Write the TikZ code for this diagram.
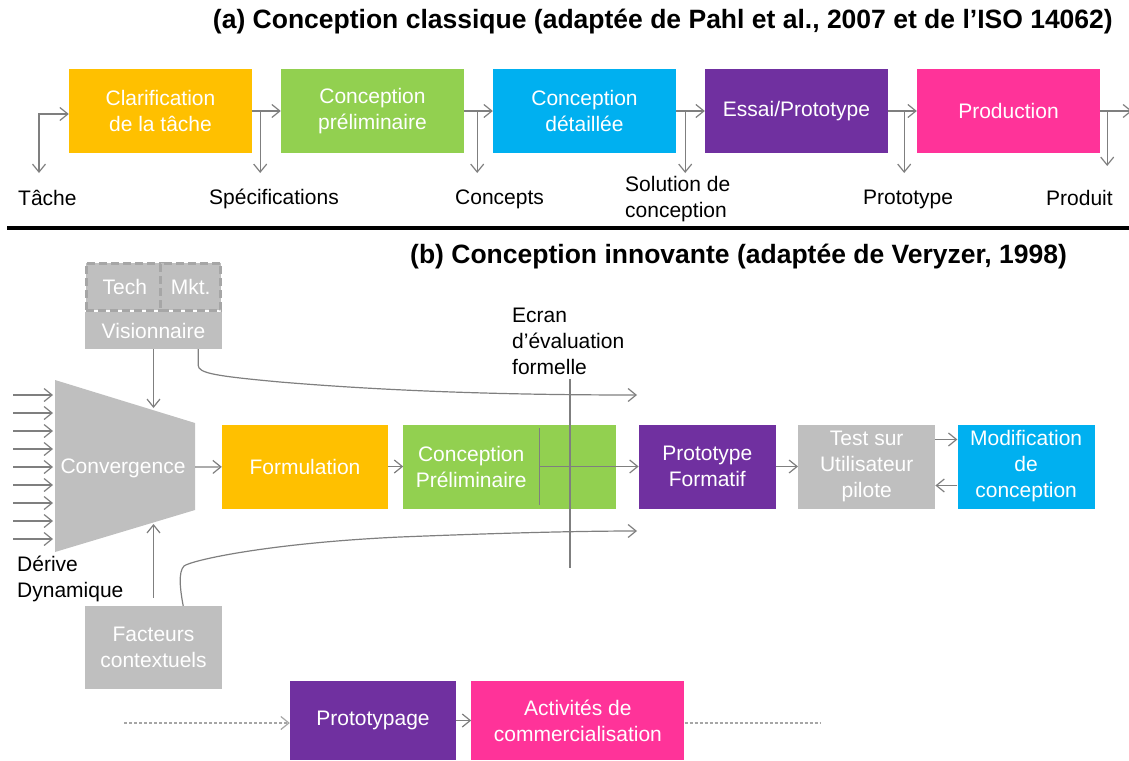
\documentclass[tikz,border=0pt]{standalone}
\usepackage{fontspec}
\setmainfont{Liberation Sans}
\usetikzlibrary{arrows.meta,positioning}

\definecolor{jaune}{HTML}{FFC000}
\definecolor{vert}{HTML}{92D050}
\definecolor{bleu}{HTML}{00B0F0}
\definecolor{violet}{HTML}{7030A0}
\definecolor{rose}{HTML}{FF3399}
\definecolor{gris}{HTML}{BFBFBF}
\definecolor{grisfonce}{HTML}{A6A6A6}
\definecolor{trait}{HTML}{7F7F7F}

\tikzset{
  boite/.style={rectangle, minimum width=183pt, minimum height=84pt, inner sep=0pt,
    text=white, align=center, font=\fontsize{21}{26}\selectfont},
  etiquette/.style={anchor=west, align=left, inner sep=0pt, font=\fontsize{21}{26}\selectfont},
  titre/.style={inner sep=0pt, font=\bfseries\fontsize{26.5}{30}\selectfont},
  pointe/.tip={Straight Barb[length=8pt,width=13pt,line width=1.2pt]},
  fleche/.style={draw=trait, line width=1.2pt, -pointe},
  bifleche/.style={draw=trait, line width=1.2pt, pointe-pointe},
  ligne/.style={draw=trait, line width=1.2pt},
  pointille/.style={draw=grisfonce, line width=1.2pt, dash pattern=on 3pt off 2pt}
}

\begin{document}
\begin{tikzpicture}[x=1pt, y=-1pt]
\useasboundingbox (0,0) rectangle (1129,760);

% (a) conception classique
\node (titreA) [titre, anchor=east] at (1113,22) {(a) Conception classique (adaptée de Pahl et al., 2007 et de l’ISO 14062)};

\node (clarif) [boite, fill=jaune] at (160.5,111) {Clarification\\de la tâche};
\node (prelimA) [boite, fill=vert, right of=clarif, node distance=212pt] {Conception\\préliminaire};
\node (detail) [boite, fill=bleu, right of=prelimA, node distance=212pt] {Conception\\détaillée};
\node (essai) [boite, fill=violet, right of=detail, node distance=212pt] {Essai/Prototype};
\node (prod) [boite, fill=rose, right of=essai, node distance=212pt] {Production};

\node (tache) [etiquette] at (18,198) {Tâche};
\node (specif) [etiquette] at (209,199) {Spécifications};
\node (concepts) [etiquette] at (455,199) {Concepts};
\node (solution) [etiquette] at (625,199) {Solution de\\conception};
\node (protoA) [etiquette] at (863,199) {Prototype};
\node (produit) [etiquette] at (1046,198) {Produit};
\coordinate (cTache) at (39,173);
\coordinate (cSortie) at (1132,111);

% Arrows
\draw[bifleche] (cTache) |- ([yshift=-3pt]clarif.west);
\draw[fleche] (clarif) -- (prelimA);
\draw[fleche] (prelimA) -- (detail);
\draw[fleche] (detail) -- (essai);
\draw[fleche] (essai) -- (prod);
\draw[fleche] (prod) -- (cSortie);
\draw[fleche] ([xshift=8pt]clarif.east) -- ++(0,62);
\draw[fleche] ([xshift=13pt]prelimA.east) -- ++(0,62);
\draw[fleche] ([xshift=9pt]detail.east) -- ++(0,62);
\draw[fleche] ([xshift=16pt]essai.east) -- ++(0,62);
\draw[fleche] ([xshift=7pt]prod.east) -- ++(0,55);

\draw[line width=4pt] (7,228) -- (1129,228);

% (b) conception innovante
\node (titreB) [titre, anchor=west] at (410,257) {(b) Conception innovante (adaptée de Veryzer, 1998)};

\node (visio) [boite, fill=gris, minimum width=137pt, minimum height=37pt] at (153.5,330.5) {Visionnaire};
\node (tech) [boite, fill=gris, draw=grisfonce, line width=3pt, dash pattern=on 8pt off 4pt,
  minimum width=77pt, minimum height=47pt, anchor=south west] at (visio.north west) {Tech};
\node (mkt) [boite, fill=gris, draw=grisfonce, line width=3pt, dash pattern=on 8pt off 4pt,
  minimum width=60pt, minimum height=47pt, anchor=south east] at (visio.north east) {Mkt.};

\coordinate (convNO) at (55,380);
\coordinate (convNE) at (195,423);
\coordinate (convSE) at (195,510);
\coordinate (convSO) at (55,552);
\fill[gris] (convNO) -- (convNE) -- (convSE) -- (convSO) -- cycle;
\node (conv) [boite, minimum width=0pt, minimum height=0pt] at (123,468) {Convergence};
\coordinate (convHaut) at (153.5,408);
\coordinate (convBas) at (153.5,524);
\coordinate (convSortie) at (195,467);
\foreach \i in {0,...,8}
  \draw[fleche] (13,395+18*\i) -- (53,395+18*\i);
\node (derive) [etiquette] at (17,579) {Dérive\\Dynamique};

\node (facteurs) [boite, fill=gris, minimum width=137pt, minimum height=83pt] at (153.5,647.5) {Facteurs\\contextuels};

\node (formul) [boite, fill=jaune, minimum width=166pt] at (305,466.5) {Formulation};
\node (prelimB) [boite, fill=vert, minimum width=213pt, right=15pt of formul] {};
\node (prelimTxt) [boite, minimum width=0pt, minimum height=0pt] at ([xshift=68pt]prelimB.west) {Conception\\Préliminaire};
\node (protoF) [boite, fill=violet, minimum width=137pt, right=22pt of prelimB] {Prototype\\Formatif};
\node (test) [boite, fill=gris, minimum width=137pt, right=22pt of protoF] {Test sur\\Utilisateur\\pilote};
\node (modif) [boite, fill=bleu, minimum width=137pt, right=22pt of test] {Modification\\de\\conception};

\coordinate (ecranA) at (570,379);
\coordinate (ecranB) at (570,568);
\coordinate (ecranHaut) at (637,395);
\coordinate (ecranBas) at (637,531);
\node (ecranTxt) [etiquette] at (512,341) {Ecran\\d’évaluation\\formelle};

\draw[fleche] (visio.south) -- (convHaut);
\draw[fleche, shorten <=8pt] (facteurs.north) -- (convBas);
\draw[fleche] (convSortie) -- (formul);
\draw[fleche] (formul) -- (prelimB);
\draw[ligne] ([xshift=136pt,yshift=4pt]prelimB.south west) -- ([xshift=136pt,yshift=-4pt]prelimB.north west);
\draw[fleche] ([xshift=136pt]prelimB.west) -- (protoF);
\draw[fleche] (protoF) -- (test);
\draw[fleche] ([yshift=27pt]test.east) -- ([yshift=27pt]modif.west);
\draw[fleche] ([yshift=-19pt]modif.west) -- ([yshift=-19pt]test.east);
\draw[ligne] (ecranA) -- (ecranB);
\draw[fleche] ([xshift=-24pt]visio.south east) -- ++(0,16)
  .. controls +(0,8) and (215,376) .. (280,382)
  .. controls (400,392) and (520,395) .. (ecranHaut);
\draw[fleche] ([xshift=-39pt]facteurs.north east) .. controls +(-3,-16) and (178,572) .. (184,566)
  .. controls (192,560) and (270,543) .. (400,537)
  .. controls (500,533) and (580,531) .. (ecranBas);

\node (prototypage) [boite, fill=violet, minimum width=166pt, minimum height=79pt] at (373,720.5) {Prototypage};
\node (activites) [boite, fill=rose, minimum width=213pt, minimum height=79pt, right=15pt of prototypage] {Activités de\\commercialisation};
\coordinate (pointA) at (124,723);
\coordinate (pointB) at (821,723);
\draw[pointille, -pointe] (pointA) -- (prototypage.west |- pointA);
\draw[fleche] (prototypage) -- (activites);
\draw[pointille] (activites.east |- pointB) -- (pointB);
\end{tikzpicture}
\end{document}
